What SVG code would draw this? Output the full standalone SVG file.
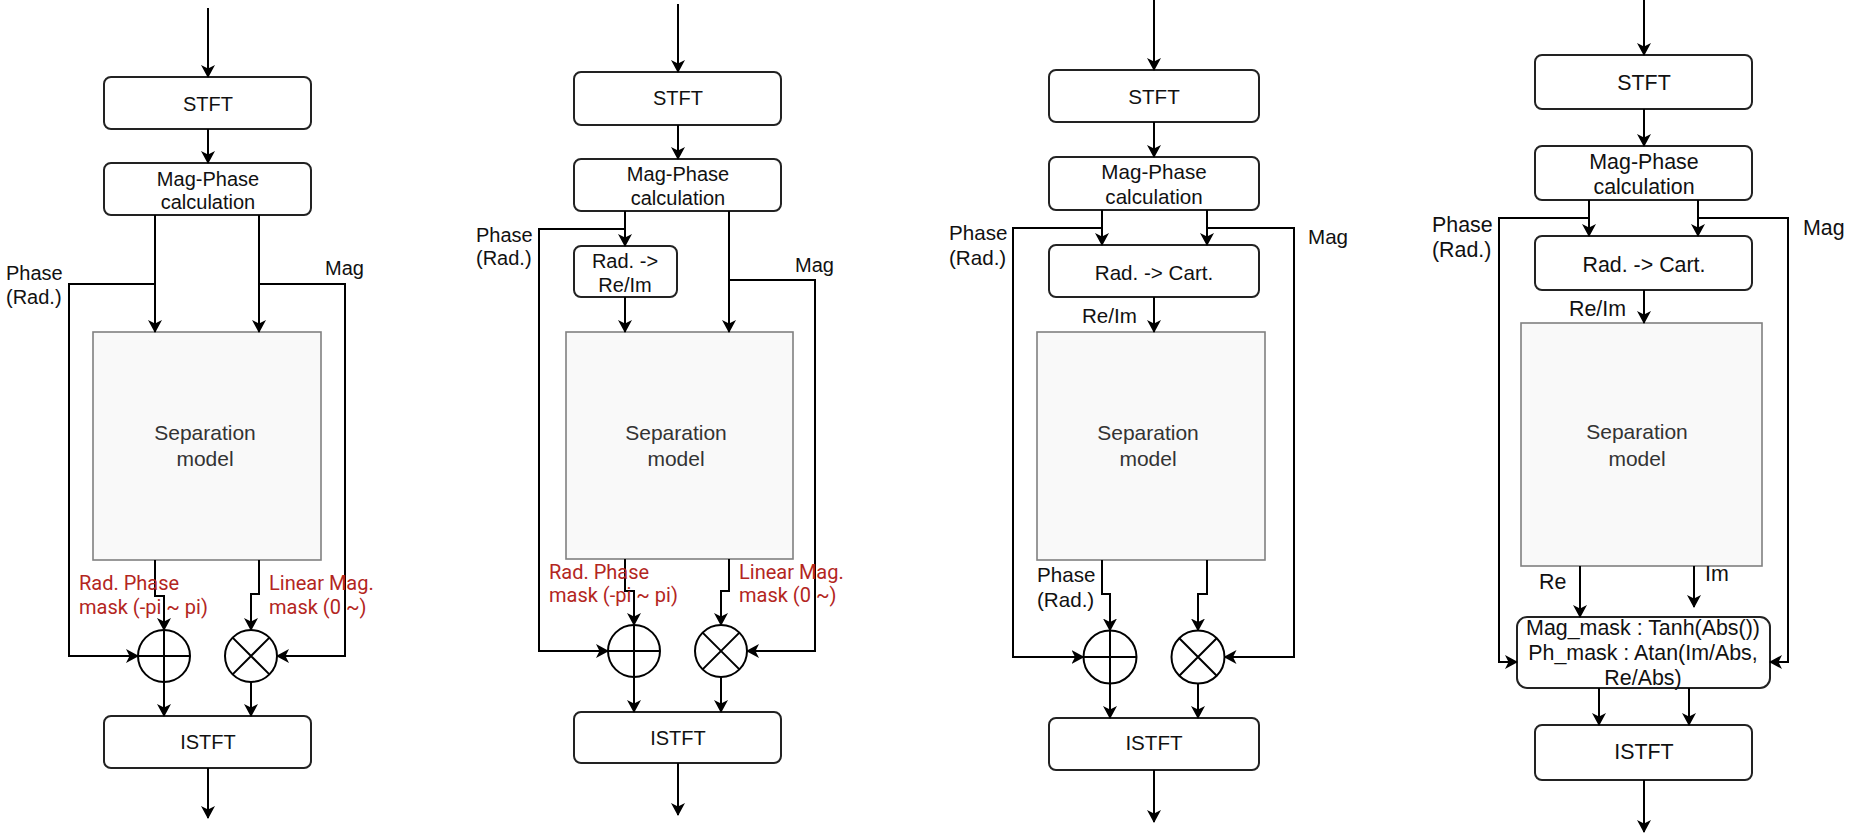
<svg xmlns="http://www.w3.org/2000/svg" width="1852" height="840" viewBox="0 0 1852 840">
<defs>
<marker id="arr" markerUnits="userSpaceOnUse" markerWidth="13" markerHeight="14" viewBox="0 0 13 14" refX="12" refY="7" orient="auto">
<path d="M0,0 L13,7 L0,14 L3.5,7 Z" fill="#000"/>
</marker>
</defs>
<style>
.box{fill:#fff;stroke:#222;stroke-width:2}
.sep{fill:#f9f9f9;stroke:#808080;stroke-width:1.6}
.t{font-family:"Liberation Sans",Arial,sans-serif;font-size:20px;fill:#111}
.p3{font-size:20.6px}
.p4{font-size:21.4px}
.c{text-anchor:middle}
.g{fill:#333;font-size:21px}
.r{font-family:Roboto,"Liberation Sans",sans-serif;font-size:20px;fill:#b3261e}
.ln{fill:none;stroke:#000;stroke-width:2}
.a{marker-end:url(#arr)}
.op{fill:#fff;stroke:#000;stroke-width:2}
</style>
<rect width="1852" height="840" fill="#fff"/>

<!-- ===== Panel 1 ===== -->
<g id="p1-stft"><rect class="box" x="104" y="77" width="207" height="52" rx="7"/><text class="t c" x="208" y="111">STFT</text></g>
<g id="p1-magphase"><rect class="box" x="104" y="163" width="207" height="52" rx="7"/><text class="t c" x="208" y="186">Mag-Phase</text><text class="t c" x="208" y="209">calculation</text></g>
<g id="p1-sep"><rect class="sep" x="93" y="332" width="228" height="228"/><text class="t c g" x="205" y="440">Separation</text><text class="t c g" x="205" y="466">model</text></g>
<g id="p1-istft"><rect class="box" x="104" y="716" width="207" height="52" rx="7"/><text class="t c" x="208" y="749">ISTFT</text></g>
<g id="p1-add"><circle class="op" cx="164" cy="656" r="26"/><path class="ln" d="M138,656 H190"/></g>
<g id="p1-mul"><circle class="op" cx="251" cy="656" r="26"/><path class="ln" d="M232.6,637.6 L269.4,674.4 M269.4,637.6 L232.6,674.4"/></g>
<g id="p1-labels">
<text class="t" x="6" y="280">Phase</text><text class="t" x="6" y="304">(Rad.)</text>
<text class="t" x="325" y="275">Mag</text>
</g>

<!-- ===== Panel 2 ===== -->
<g id="p2-stft"><rect class="box" x="574" y="72" width="207" height="53" rx="7"/><text class="t c" x="678" y="105">STFT</text></g>
<g id="p2-magphase"><rect class="box" x="574" y="159" width="207" height="52" rx="7"/><text class="t c" x="678" y="181">Mag-Phase</text><text class="t c" x="678" y="205">calculation</text></g>
<g id="p2-rad"><rect class="box" x="574" y="246" width="103" height="51" rx="7"/><text class="t c" x="625" y="268">Rad. -&gt;</text><text class="t c" x="625" y="292">Re/Im</text></g>
<g id="p2-sep"><rect class="sep" x="566" y="332" width="227" height="227"/><text class="t c g" x="676" y="440">Separation</text><text class="t c g" x="676" y="466">model</text></g>
<g id="p2-istft"><rect class="box" x="574" y="712" width="207" height="51" rx="7"/><text class="t c" x="678" y="745">ISTFT</text></g>
<g id="p2-add"><circle class="op" cx="634" cy="651" r="26"/><path class="ln" d="M608,651 H660"/></g>
<g id="p2-mul"><circle class="op" cx="721" cy="651" r="26"/><path class="ln" d="M702.6,632.6 L739.4,669.4 M739.4,632.6 L702.6,669.4"/></g>
<g id="p2-labels">
<text class="t" x="476" y="242">Phase</text><text class="t" x="476" y="265">(Rad.)</text>
<text class="t" x="795" y="272">Mag</text>
</g>

<!-- ===== Panel 3 ===== -->
<g id="p3-stft"><rect class="box" x="1049" y="70" width="210" height="52" rx="7"/><text class="t p3 c" x="1154" y="104">STFT</text></g>
<g id="p3-magphase"><rect class="box" x="1049" y="157" width="210" height="53" rx="7"/><text class="t p3 c" x="1154" y="179">Mag-Phase</text><text class="t p3 c" x="1154" y="204">calculation</text></g>
<g id="p3-cart"><rect class="box" x="1049" y="245" width="210" height="52" rx="7"/><text class="t p3 c" x="1154" y="280">Rad. -&gt; Cart.</text></g>
<g id="p3-sep"><rect class="sep" x="1037" y="332" width="228" height="228"/><text class="t c g" x="1148" y="440">Separation</text><text class="t c g" x="1148" y="466">model</text></g>
<g id="p3-istft"><rect class="box" x="1049" y="718" width="210" height="52" rx="7"/><text class="t p3 c" x="1154" y="750">ISTFT</text></g>
<g id="p3-add"><circle class="op" cx="1110" cy="657" r="26.5"/><path class="ln" d="M1083.5,657 H1136.5"/></g>
<g id="p3-mul"><circle class="op" cx="1198" cy="657" r="26.5"/><path class="ln" d="M1179.3,638.3 L1216.7,675.7 M1216.7,638.3 L1179.3,675.7"/></g>
<g id="p3-labels">
<text class="t p3" x="949" y="240">Phase</text><text class="t p3" x="949" y="265">(Rad.)</text>
<text class="t p3" x="1308" y="244">Mag</text>
<text class="t p3" x="1082" y="323">Re/Im</text>
<text class="t p3" x="1037" y="582">Phase</text><text class="t p3" x="1037" y="607">(Rad.)</text>
</g>

<!-- ===== Panel 4 ===== -->
<g id="p4-stft"><rect class="box" x="1535" y="55" width="217" height="54" rx="7"/><text class="t p4 c" x="1644" y="90">STFT</text></g>
<g id="p4-magphase"><rect class="box" x="1535" y="146" width="217" height="54" rx="7"/><text class="t p4 c" x="1644" y="169">Mag-Phase</text><text class="t p4 c" x="1644" y="194">calculation</text></g>
<g id="p4-cart"><rect class="box" x="1535" y="236" width="217" height="54" rx="7"/><text class="t p4 c" x="1644" y="272">Rad. -&gt; Cart.</text></g>
<g id="p4-sep"><rect class="sep" x="1521" y="323" width="241" height="243"/><text class="t c g" x="1637" y="439">Separation</text><text class="t c g" x="1637" y="466">model</text></g>
<g id="p4-mask"><rect class="box" x="1517" y="617" width="253" height="71" rx="10"/><text class="t p4 c" x="1643" y="635">Mag_mask : Tanh(Abs())</text><text class="t p4 c" x="1643" y="660">Ph_mask : Atan(Im/Abs,</text><text class="t p4 c" x="1643" y="685">Re/Abs)</text></g>
<g id="p4-istft"><rect class="box" x="1535" y="725" width="217" height="55" rx="7"/><text class="t p4 c" x="1644" y="759">ISTFT</text></g>
<g id="p4-labels">
<text class="t p4" x="1432" y="232">Phase</text><text class="t p4" x="1432" y="257">(Rad.)</text>
<text class="t p4" x="1803" y="235">Mag</text>
<text class="t p4" x="1569" y="316">Re/Im</text>
<text class="t p4" x="1539" y="589">Re</text>
<text class="t p4" x="1705" y="581">Im</text>
</g>

<!-- ===== Connectors ===== -->
<g id="connectors">
<path class="ln a" d="M208,8 V77"/>
<path class="ln a" d="M208,129 V163"/>
<path class="ln a" d="M155,215 V332"/>
<path class="ln a" d="M259,215 V332"/>
<path class="ln a" d="M155,284 H69 V656 H138"/>
<path class="ln a" d="M259,284 H345 V656 H277"/>
<path class="ln a" d="M155,560 V596 H164 V630"/>
<path class="ln a" d="M259,560 V594 H251 V630"/>
<path class="ln a" d="M164,630 V716"/>
<path class="ln a" d="M251,682 V716"/>
<path class="ln a" d="M208,768 V818"/>

<path class="ln a" d="M678,4 V72"/>
<path class="ln a" d="M678,125 V159"/>
<path class="ln a" d="M625,211 V246"/>
<path class="ln a" d="M625,297 V332"/>
<path class="ln a" d="M729,211 V332"/>
<path class="ln a" d="M625,229 H539 V651 H608"/>
<path class="ln a" d="M729,280 H815 V651 H747"/>
<path class="ln a" d="M625,559 V591 H634 V625"/>
<path class="ln a" d="M729,559 V591 H721 V625"/>
<path class="ln a" d="M634,625 V712"/>
<path class="ln a" d="M721,677 V712"/>
<path class="ln a" d="M678,763 V815"/>

<path class="ln a" d="M1154,0 V70"/>
<path class="ln a" d="M1154,122 V157"/>
<path class="ln a" d="M1102,210 V245"/>
<path class="ln a" d="M1207,210 V245"/>
<path class="ln a" d="M1102,228 H1013 V657 H1083.5"/>
<path class="ln a" d="M1207,228 H1294 V657 H1224.5"/>
<path class="ln a" d="M1154,297 V332"/>
<path class="ln a" d="M1102,560 V594 H1110 V630.5"/>
<path class="ln a" d="M1207,560 V594 H1198 V630.5"/>
<path class="ln a" d="M1110,630.5 V718"/>
<path class="ln a" d="M1198,683.5 V718"/>
<path class="ln a" d="M1154,770 V822"/>

<path class="ln a" d="M1644,0 V55"/>
<path class="ln a" d="M1644,109 V146"/>
<path class="ln a" d="M1589,200 V236"/>
<path class="ln a" d="M1698,200 V236"/>
<path class="ln a" d="M1589,218 H1499 V662 H1517"/>
<path class="ln a" d="M1698,218 H1788 V662 H1770"/>
<path class="ln a" d="M1644,290 V323"/>
<path class="ln a" d="M1580,566 V617"/>
<path class="ln a" d="M1694,566 V607"/>
<path class="ln a" d="M1599,688 V725"/>
<path class="ln a" d="M1689,688 V725"/>
<path class="ln a" d="M1644,780 V832"/>
</g>

<!-- red mask labels -->
<g id="mask-labels">
<text class="r" x="79" y="590">Rad. Phase</text><text class="r" x="79" y="614">mask (-pi ~ pi)</text>
<text class="r" x="269" y="590">Linear Mag.</text><text class="r" x="269" y="614">mask (0 ~)</text>
<text class="r" x="549" y="579">Rad. Phase</text><text class="r" x="549" y="602">mask (-pi ~ pi)</text>
<text class="r" x="739" y="579">Linear Mag.</text><text class="r" x="739" y="602">mask (0 ~)</text>
</g>
</svg>
